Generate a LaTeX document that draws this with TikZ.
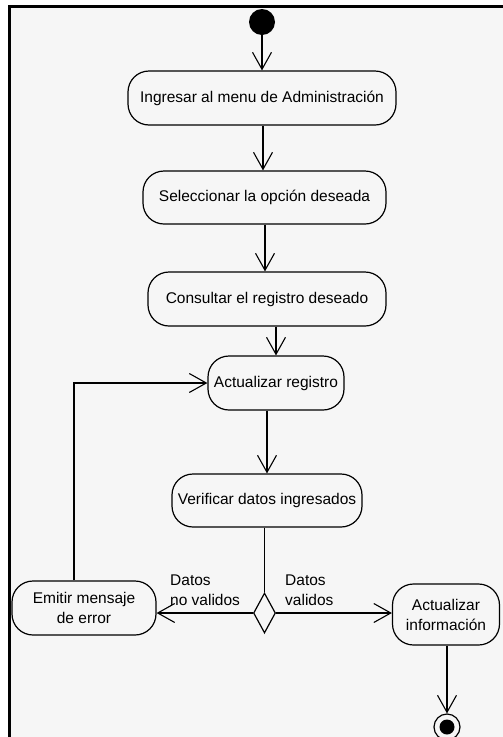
\documentclass[tikz,border=0pt]{standalone}
\usepackage{fontspec}
\setmainfont{Liberation Sans}
\usepackage{tikz}
\usetikzlibrary{arrows.meta,positioning,shapes.geometric}
\definecolor{canvas}{HTML}{F6F6F6}
\tikzset{
  activity/.style={draw,rounded corners=21pt,line width=1.2pt,inner sep=2pt,
    align=center,font=\fontsize{15.5}{20}\selectfont},
  flow/.style={line width=1.1pt,-{Straight Barb[length=17pt,width=19pt,line width=1.1pt]}},
  guard/.style={align=left,anchor=west,inner sep=0pt,font=\fontsize{15.5}{20}\selectfont},
  every node/.style={font=\small}
}

\begin{document}
\begin{tikzpicture}[x=1pt,y=-1pt]
  \useasboundingbox (0,0) rectangle (503,737);

  % window area with its left and top edges
  \fill[canvas] (8,5) rectangle (503,737);
  \draw[line width=3pt] (9.5,737) -- (9.5,6.5) -- (503,6.5);

  \node[circle,fill,minimum size=26pt,inner sep=0pt] (inicio) at (262,22) {};

  \node[activity,minimum width=268pt,minimum height=54pt] (ingresar) at (262,98)
    {Ingresar al menu de Administración};
  \node[activity,minimum width=243pt,minimum height=53pt] (seleccionar) at (264.5,197.5)
    {Seleccionar la opción deseada};
  \node[activity,minimum width=238pt,minimum height=54pt] (consultar) at (267,299)
    {Consultar el registro deseado};
  \node[activity,minimum width=136pt,minimum height=54pt] (actualizar) at (276,383)
    {Actualizar registro};
  \node[activity,minimum width=190pt,minimum height=53pt] (verificar) at (267,500.5)
    {Verificar datos ingresados};

  \node[diamond,draw,line width=1.2pt,inner sep=0pt,minimum width=22pt,minimum height=40pt]
    (decision) at (264.5,613) {};

  \node[activity,minimum width=144pt,minimum height=54pt] (emitir) at (84,608)
    {Emitir mensaje\\de error};
  \node[activity,minimum width=107pt,minimum height=61pt] (actinfo) at (446,614.5)
    {Actualizar\\información};

  % final node
  \node[circle,draw,line width=1.2pt,minimum size=26pt,inner sep=0pt] (fin) at (447,727) {};
  \node[circle,fill,minimum size=15pt,inner sep=0pt] (finpunto) at (fin) {};

  % guards
  \node[guard] (novalidos) at (170,590) {Datos\\no validos};
  \node[guard] (validos) at (285,590) {Datos\\validos};

  % control flow
  \draw[flow] (inicio) -- (ingresar);
  \draw[flow] (ingresar.south -| 263,0) -- (seleccionar.north -| 263,0);
  \draw[flow] (seleccionar.south -| 265,0) -- (consultar.north -| 265,0);
  \draw[flow] (consultar.south -| actualizar.north) -- (actualizar.north);
  \draw[flow] (actualizar.south -| verificar.north) -- (verificar.north);
  \draw[line width=1.1pt] (verificar.south -| decision.north) -- (decision.north);
  \draw[flow] (decision.west) -- (decision.west -| emitir.east);
  \draw[flow] (decision.east) -- (decision.east -| actinfo.west);
  \draw[flow] ([xshift=-10pt]emitir.north) |- (actualizar.west);
  \draw[flow] (actinfo.south -| fin.north) -- (fin.north);
\end{tikzpicture}
\end{document}
